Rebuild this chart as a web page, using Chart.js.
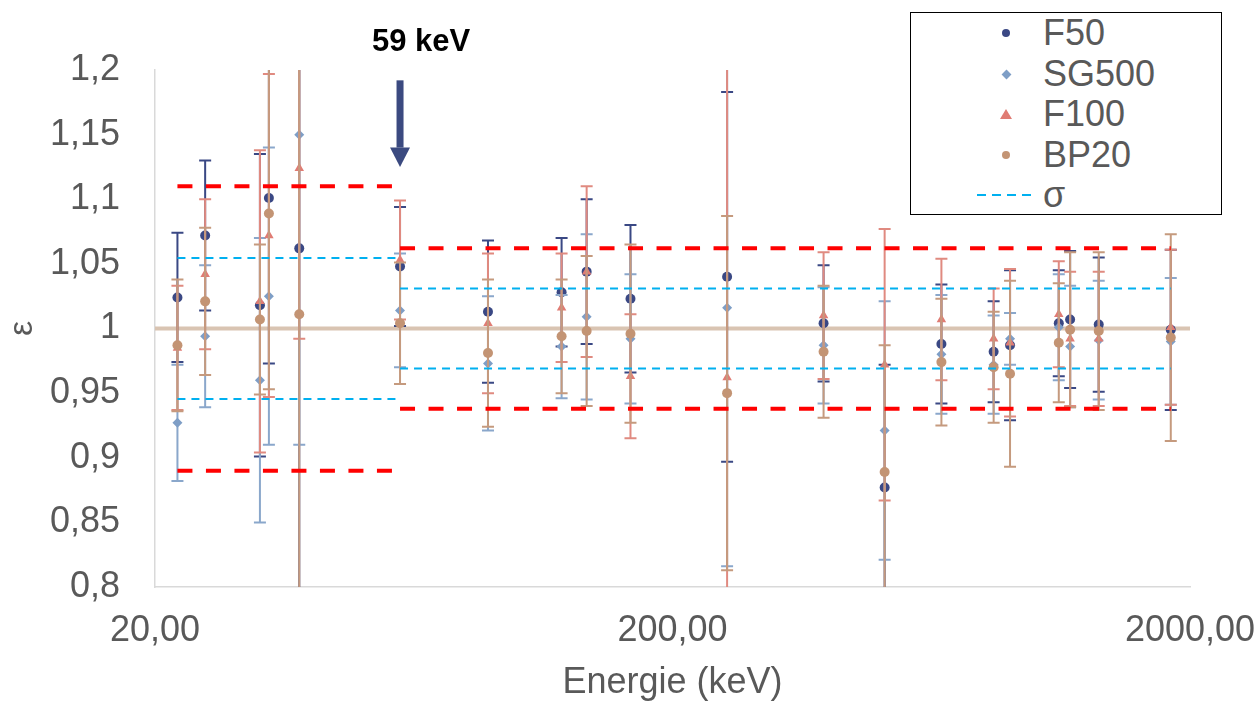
<!DOCTYPE html>
<html lang="fr">
<head>
<meta charset="UTF-8">
<title>Efficacité relative ε</title>
<script src="https://cdn.jsdelivr.net/npm/chart.js"></script>
<style>
  html, body { margin: 0; padding: 0; background: #fff; }
  #wrap { position: relative; width: 1260px; height: 701px; }
  #legend {
    position: absolute; left: 910px; top: 12px; width: 310px; height: 201px;
    border: 1px solid #000; background: #fff;
    font-family: 'Liberation Sans', Arial, sans-serif; font-size: 36px; color: #595959;
  }
  #legend .row { position: absolute; left: 0; right: 0; height: 40px; line-height: 40px; }
  #legend .txt { position: absolute; left: 132px; top: 0; }
  #legend .mk { position: absolute; }
</style>
</head>
<body>
<div id="wrap">
  <canvas id="chart"></canvas>
  <div id="legend"></div>
</div>
<script>
// Energies des raies (keV)
const ENERGIES = [22.1, 25.0, 31.9, 33.2, 38.0, 59.5, 88.0, 122.1, 136.5, 165.9,
                  255.0, 391.7, 514.0, 661.7, 834.8, 898.0, 1115.5, 1173.2, 1332.5, 1836.0];

const F50 = [1.024, 1.072, 1.018, 1.101, 1.062, 1.048, 1.013, 1.028, 1.044, 1.023,
             1.040, 1.004, 0.877, 0.988, 0.982, 0.987, 1.004, 1.007, 1.003, 0.999];
const F50_ERR = [0.050, 0.058, 0.117, 0.128, 0.270, 0.046, 0.055, 0.042, 0.056, 0.057,
                 0.143, 0.045, 0.095, 0.046, 0.039, 0.058, 0.041, 0.053, 0.052, 0.062];

const SG500 = [0.927, 0.994, 0.960, 1.025, 1.150, 1.014, 0.973, 0.986, 1.009, 0.992,
               1.016, 0.987, 0.921, 0.980, 0.972, 0.992, 1.001, 0.986, 0.991, 0.990];
const SG500_ERR = [0.045, 0.055, 0.110, 0.115, 0.240, 0.044, 0.052, 0.040, 0.064, 0.050,
                   0.200, 0.045, 0.100, 0.046, 0.038, 0.020, 0.041, 0.047, 0.046, 0.049];

const F100 = [0.985, 1.042, 1.021, 1.072, 1.124, 1.053, 1.004, 1.016, 1.044, 0.963,
              0.962, 1.010, 0.972, 1.007, 0.992, 0.989, 1.011, 0.992, 0.992, 1.001];
const F100_ERR = [0.048, 0.058, 0.117, 0.125, 0.132, 0.046, 0.054, 0.042, 0.066, 0.048,
                  0.260, 0.049, 0.105, 0.047, 0.039, 0.057, 0.041, 0.052, 0.052, 0.060];

const BP20 = [0.987, 1.021, 1.007, 1.089, 1.011, 1.004, 0.981, 0.994, 0.998, 0.996,
              0.950, 0.982, 0.889, 0.974, 0.970, 0.965, 0.989, 0.999, 0.998, 0.993];
const BP20_ERR = [0.051, 0.057, 0.058, 0.136, 0.300, 0.047, 0.057, 0.044, 0.058, 0.069,
                  0.137, 0.051, 0.098, 0.049, 0.043, 0.072, 0.046, 0.060, 0.061, 0.080];

// bandes de tolérance : avant / après 59 keV
const BAND_RANGES = [[22.1, 59.5], [59.5, 1836.0]];
const SIGMA_BAND = [0.0545, 0.031];
const TWO_SIGMA_BAND = [0.110, 0.062];

const X_TICKS = [20, 200, 2000];
const Y_MIN = 0.8, Y_MAX = 1.2, Y_STEP = 0.05;

const ARROW_E = 59.5;
const ARROW_LABEL = '59 keV';

const GREY = '#595959';
const FONT = "'Liberation Sans', Arial, sans-serif";

const series = [
  { label: 'F50',   values: F50,   errors: F50_ERR,   color: '#3a4884', errColor: '#3a4884', style: 'circle',   radius: 5,   order: 4 },
  { label: 'SG500', values: SG500, errors: SG500_ERR, color: '#7e9ec6', errColor: '#8aa7cb', style: 'rectRot',  radius: 5,   order: 3 },
  { label: 'F100',  values: F100,  errors: F100_ERR,  color: '#e07c74', errColor: '#e08a80', style: 'triangle', radius: 5.5, order: 2 },
  { label: 'BP20',  values: BP20,  errors: BP20_ERR,  color: '#c39474', errColor: '#c59a7e', style: 'circle',   radius: 5,   order: 1 }
];

const datasets = [];

// ligne de référence ε = 1
datasets.push({
  data: [{ x: X_TICKS[0], y: 1 }, { x: X_TICKS[X_TICKS.length - 1], y: 1 }],
  showLine: true, pointRadius: 0, borderColor: '#d9c4b2', borderWidth: 4, order: 10
});

series.forEach(s => {
  datasets.push({
    label: s.label,
    data: ENERGIES.map((e, i) => ({ x: e, y: s.values[i] })),
    errors: s.errors,
    errColor: s.errColor,
    pointStyle: s.style,
    pointRadius: s.radius,
    backgroundColor: s.color,
    borderColor: s.color,
    borderWidth: 0,
    showLine: false,
    order: s.order
  });
});

function bandLines(halfWidths, color, width, dash) {
  BAND_RANGES.forEach((r, k) => {
    [1, -1].forEach(sign => {
      const v = 1 + sign * halfWidths[k];
      datasets.push({
        data: [{ x: r[0], y: v }, { x: r[1], y: v }],
        showLine: true, pointRadius: 0, borderColor: color, borderWidth: width,
        borderDash: dash, order: 0
      });
    });
  });
}
bandLines(TWO_SIGMA_BAND, '#ff0000', 4, [15, 13.5]);
bandLines(SIGMA_BAND, '#00b0f0', 2, [8, 6]);

// barres d'erreur dessinées juste avant chaque série
const errorBars = {
  id: 'errorBars',
  beforeDatasetDraw(chart, args) {
    const ds = chart.data.datasets[args.index];
    if (!ds.errors) return;
    const { ctx, chartArea: a, scales: { x, y } } = chart;
    ctx.save();
    ctx.beginPath();
    ctx.rect(a.left, a.top, a.right - a.left, a.bottom - a.top);
    ctx.clip();
    ctx.strokeStyle = ds.errColor;
    ctx.lineWidth = 2;
    ds.data.forEach((p, i) => {
      const px = x.getPixelForValue(p.x);
      const top = y.getPixelForValue(p.y + ds.errors[i]);
      const bot = y.getPixelForValue(p.y - ds.errors[i]);
      ctx.beginPath();
      ctx.moveTo(px, top); ctx.lineTo(px, bot);
      ctx.moveTo(px - 6, top); ctx.lineTo(px + 6, top);
      ctx.moveTo(px - 6, bot); ctx.lineTo(px + 6, bot);
      ctx.stroke();
    });
    ctx.restore();
  }
};

// flèche + étiquette sur la raie de 59 keV
const arrowMark = {
  id: 'arrowMark',
  afterDraw(chart) {
    const { ctx, scales: { x, y } } = chart;
    const px = x.getPixelForValue(ARROW_E);
    const y0 = y.getPixelForValue(1.192);
    const yHead = y.getPixelForValue(1.140);
    const yTip = y.getPixelForValue(1.125);
    ctx.save();
    ctx.fillStyle = '#3b4a80';
    ctx.fillRect(px - 3.5, y0, 7, yHead - y0);
    ctx.beginPath();
    ctx.moveTo(px - 10, yHead);
    ctx.lineTo(px + 10, yHead);
    ctx.lineTo(px, yTip);
    ctx.closePath();
    ctx.fill();
    ctx.fillStyle = '#000';
    ctx.font = 'bold 31px ' + FONT;
    ctx.textAlign = 'center';
    ctx.textBaseline = 'middle';
    ctx.fillText(ARROW_LABEL, px + 21, y.getPixelForValue(Y_MAX) - 28);
    ctx.restore();
  }
};

Chart.defaults.font.family = FONT;
Chart.defaults.color = GREY;

new Chart(document.getElementById('chart'), {
  type: 'scatter',
  data: { datasets: datasets },
  options: {
    responsive: true,
    maintainAspectRatio: false,
    animation: false,
    layout: { padding: { top: 70, right: 70, left: 0, bottom: 0 } },
    plugins: { legend: { display: false }, tooltip: { enabled: false } },
    scales: {
      x: {
        type: 'logarithmic',
        min: X_TICKS[0], max: X_TICKS[X_TICKS.length - 1],
        afterBuildTicks: s => { s.ticks = X_TICKS.map(v => ({ value: v })); },
        afterFit: s => { s.height = 114; s.paddingLeft = 0; s.paddingRight = 0; },
        grid: { display: false, drawTicks: false },
        border: { display: true, color: '#d9d9d9', width: 1.5 },
        ticks: {
          padding: 22, maxRotation: 0, autoSkip: false,
          font: { size: 36 }, color: GREY,
          callback: v => Number(v).toFixed(2).replace('.', ',')
        },
        title: {
          display: true, text: 'Energie (keV)', color: GREY,
          font: { size: 36, lineHeight: 1 }, padding: { top: 0, bottom: 0 }
        }
      },
      y: {
        min: Y_MIN, max: Y_MAX,
        afterFit: s => { s.width = 155; s.paddingTop = 0; s.paddingBottom = 0; },
        grid: { display: false, drawTicks: false },
        border: { display: true, color: '#d9d9d9', width: 1.5 },
        ticks: {
          stepSize: Y_STEP, padding: 35,
          font: { size: 36 }, color: GREY,
          callback: v => String(Math.round(v * 100) / 100).replace('.', ',')
        },
        title: {
          display: true, text: 'ε', color: GREY,
          font: { size: 34, lineHeight: 1 }, padding: { top: 6, bottom: 0 }
        }
      }
    }
  },
  plugins: [errorBars, arrowMark]
});

// légende
const legend = document.getElementById('legend');
const ROW_TOPS = [0, 41, 81, 122, 162];
series.forEach((s, i) => {
  const row = document.createElement('div');
  row.className = 'row';
  row.style.top = ROW_TOPS[i] + 'px';
  const mk = document.createElement('div');
  mk.className = 'mk';
  if (s.style === 'triangle') {
    mk.style.cssText = 'left:89px;top:15px;width:0;height:0;border-left:6px solid transparent;' +
      'border-right:6px solid transparent;border-bottom:10px solid ' + s.color + ';';
  } else if (s.style === 'rectRot') {
    mk.style.cssText = 'left:92px;top:17px;width:7px;height:7px;transform:rotate(45deg);background:' + s.color + ';';
  } else {
    mk.style.cssText = 'left:91px;top:16px;width:8px;height:8px;border-radius:50%;background:' + s.color + ';';
  }
  row.appendChild(mk);
  const t = document.createElement('span');
  t.className = 'txt';
  t.textContent = s.label;
  row.appendChild(t);
  legend.appendChild(row);
});
const sigRow = document.createElement('div');
sigRow.className = 'row';
sigRow.style.top = ROW_TOPS[4] + 'px';
const dash = document.createElement('div');
dash.className = 'mk';
dash.style.cssText = 'left:66px;top:19px;width:56px;height:2px;' +
  'background:repeating-linear-gradient(90deg,#00b0f0 0 9px,transparent 9px 15px);';
sigRow.appendChild(dash);
const sig = document.createElement('span');
sig.className = 'txt';
sig.textContent = 'σ';
sigRow.appendChild(sig);
legend.appendChild(sigRow);
</script>
</body>
</html>
